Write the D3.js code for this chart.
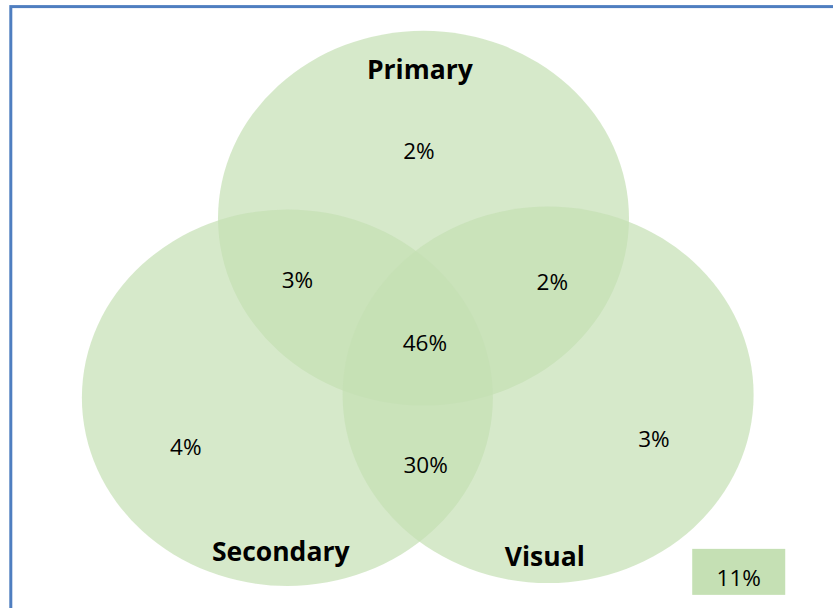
<!DOCTYPE html>
<html>
<head>
<meta charset="utf-8">
<script src="https://cdn.jsdelivr.net/npm/d3@7"></script>
<style>
  body { margin: 0; background: #fff; }
  svg { display: block; }
</style>
</head>
<body>
<svg id="chart"></svg>
<script>
// set names and the share of respondents in each region
const sets = ["Primary", "Secondary", "Visual"];
const regions = ["Primary only", "Primary & Secondary", "Primary & Visual", "All three",
                 "Secondary only", "Visual only", "Secondary & Visual"];
const regionValues = [2, 3, 2, 46, 4, 3, 30];
const outsideValue = 11;

const width = 833, height = 608;

// layout in chart units (0..100 across, 0..73 down)
const x = d3.scaleLinear().domain([0, 100]).range([0, width]);
const y = d3.scaleLinear().domain([0, 73]).range([0, height]);

const ellipseLayout = [
  { cx: 50.84, cy: 26.2, rx: 24.67, ry: 22.5 },
  { cx: 34.5, cy: 47.75, rx: 24.67, ry: 22.6 },
  { cx: 65.8, cy: 47.4, rx: 24.67, ry: 22.6 }
];
const setLabelPos = [[50.4, 8.4], [33.7, 66.3], [65.4, 66.8]];
const regionLabelPos = [[50.3, 18.1], [35.7, 33.6], [66.3, 33.9], [51.0, 41.2],
                        [22.3, 53.7], [78.5, 52.7], [51.1, 55.8]];

const fill = "#C5E0B4";
const font = "'Open Sans', Lato, sans-serif";

const svg = d3.select("#chart")
  .attr("width", width)
  .attr("height", height);

// frame
svg.append("rect")
  .attr("x", 10.8)
  .attr("y", 6.6)
  .attr("width", width + 20)
  .attr("height", height + 20)
  .attr("fill", "none")
  .attr("stroke", "#4F7EC0")
  .attr("stroke-width", 3);

// the three sets
svg.selectAll("ellipse")
  .data(sets)
  .join("ellipse")
  .attr("cx", (d, i) => x(ellipseLayout[i].cx))
  .attr("cy", (d, i) => y(ellipseLayout[i].cy))
  .attr("rx", (d, i) => x(ellipseLayout[i].rx))
  .attr("ry", (d, i) => y(ellipseLayout[i].ry))
  .attr("fill", fill)
  .attr("fill-opacity", 0.7);

// set names
svg.selectAll(".set-label")
  .data(sets)
  .join("text")
  .attr("class", "set-label")
  .attr("x", (d, i) => x(setLabelPos[i][0]))
  .attr("y", (d, i) => y(setLabelPos[i][1]))
  .attr("dy", "0.35em")
  .attr("text-anchor", "middle")
  .style("font-family", font)
  .style("font-size", "26.5px")
  .style("font-weight", "bold")
  .style("fill", "#000")
  .text(d => d);

// region percentages
svg.selectAll(".region-label")
  .data(regionValues)
  .join("text")
  .attr("class", "region-label")
  .attr("x", (d, i) => x(regionLabelPos[i][0]))
  .attr("y", (d, i) => y(regionLabelPos[i][1]))
  .attr("dy", "0.35em")
  .attr("text-anchor", "middle")
  .style("font-family", font)
  .style("font-size", "22.5px")
  .style("fill", "#000")
  .text(d => d + "%");

// outside all sets
const box = svg.append("g").attr("transform", `translate(${x(83.1)}, ${y(65.9)})`);
box.append("rect")
  .attr("width", 93)
  .attr("height", 46)
  .attr("fill", fill);
box.append("text")
  .attr("x", 46.5)
  .attr("y", 29)
  .attr("dy", "0.35em")
  .attr("text-anchor", "middle")
  .style("font-family", font)
  .style("font-size", "22.5px")
  .style("fill", "#000")
  .text(outsideValue + "%");
</script>
</body>
</html>
